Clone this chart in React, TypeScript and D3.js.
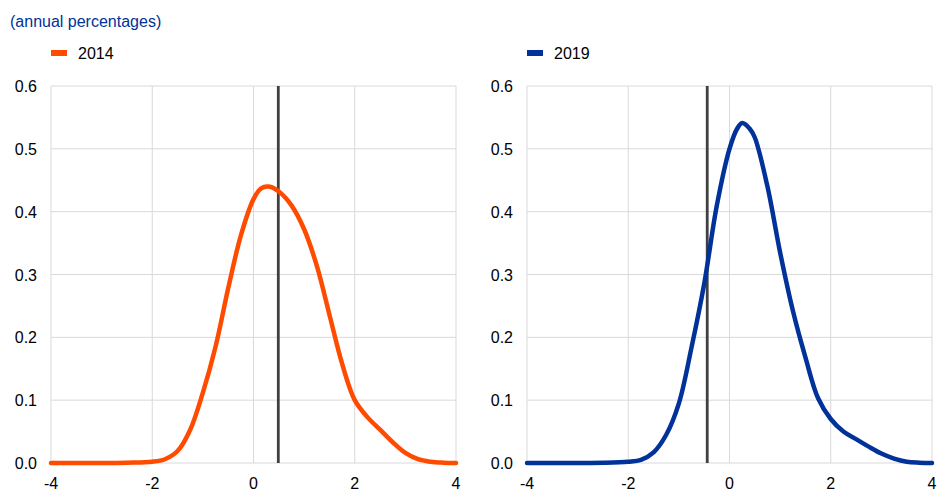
import * as d3 from "d3";

// density curves (x in annual %, y = density)
const xs2014 = [-4, -3, -2.5, -2, -1.75, -1.5, -1.25, -1, -0.75, -0.5, -0.25, 0, 0.15, 0.3, 0.5, 0.75, 1, 1.25, 1.5, 1.75, 2, 2.25, 2.5, 2.75, 3, 3.25, 3.5, 3.75, 4];
const ys2014 = [0, 0, 0.0005, 0.002, 0.006, 0.019, 0.053, 0.112, 0.185, 0.278, 0.362, 0.42, 0.437, 0.44, 0.432, 0.41, 0.372, 0.314, 0.236, 0.158, 0.1, 0.073, 0.053, 0.033, 0.016, 0.006, 0.002, 0.0005, 0];

const xs2019 = [-4, -3, -2.5, -2, -1.75, -1.5, -1.25, -1, -0.75, -0.5, -0.25, 0, 0.15, 0.25, 0.4, 0.5, 0.75, 1, 1.25, 1.5, 1.75, 2, 2.25, 2.5, 2.75, 3, 3.25, 3.5, 3.75, 4];
const ys2019 = [0, 0, 0.0003, 0.002, 0.005, 0.017, 0.045, 0.095, 0.184, 0.285, 0.41, 0.5, 0.532, 0.541, 0.532, 0.518, 0.44, 0.335, 0.243, 0.168, 0.103, 0.07, 0.05, 0.038, 0.026, 0.015, 0.007, 0.002, 0.0005, 0];

const markers = [0.49, -0.44]; // vertical reference lines
const series = ["2014", "2019"];
const colors = ["#FF4B00", "#003299"];
const xTicks = [-4, -2, 0, 2, 4];
const yTicks = [0, 0.1, 0.2, 0.3, 0.4, 0.5, 0.6];

const W = 947;
const H = 503;
const FONT = "Arial, 'Liberation Sans', sans-serif";

function Panel({ left, xsArr, ysArr, color, label, marker }: {
  left: number; xsArr: number[]; ysArr: number[]; color: string; label: string; marker: number;
}) {
  const x = d3.scaleLinear().domain([-4, 4]).range([left, left + 405]);
  const y = d3.scaleLinear().domain([0, 0.6]).range([463, 86]);
  const pts = xsArr.map((v, i) => [v, ysArr[i]] as [number, number]);
  const line = d3.line<[number, number]>()
    .x(d => x(d[0]))
    .y(d => y(Math.max(0, d[1])))
    .curve(d3.curveCatmullRom.alpha(0.5));

  return (
    <g>
      {/* grid */}
      {yTicks.map(t => (
        <line key={`h${t}`} x1={x(-4)} x2={x(4)} y1={y(t)} y2={y(t)} stroke="#d9d9d9" strokeWidth={1} />
      ))}
      {xTicks.map(t => (
        <line key={`v${t}`} x1={x(t)} x2={x(t)} y1={y(0)} y2={y(0.6)} stroke="#d9d9d9" strokeWidth={1} />
      ))}
      {/* tick labels */}
      {yTicks.map(t => (
        <text key={`yl${t}`} x={left - 14} y={y(t) + 6} textAnchor="end" fontSize={16} fill="#000">
          {t.toFixed(1)}
        </text>
      ))}
      {xTicks.map(t => (
        <text key={`xl${t}`} x={x(t)} y={489} textAnchor="middle" fontSize={16} fill="#000">
          {t}
        </text>
      ))}
      {/* legend */}
      <rect x={left} y={50} width={16} height={6} fill={color} />
      <text x={left + 27} y={59} fontSize={16} fill="#000">{label}</text>
      {/* reference line */}
      <line x1={x(marker)} x2={x(marker)} y1={y(0)} y2={y(0.6)} stroke="#404040" strokeWidth={2.8} />
      {/* density */}
      <path d={line(pts) || ""} fill="none" stroke={color} strokeWidth={4.5} strokeLinecap="round" strokeLinejoin="round" />
    </g>
  );
}

export default function App() {
  return (
    <svg width={W} height={H} viewBox={`0 0 ${W} ${H}`}
      style={{ position: "absolute", left: 0, top: 0, display: "block", background: "#fff", fontFamily: FONT }}>
      <text x={10} y={27} fontSize={16} fill="#003299">(annual percentages)</text>
      <Panel left={51} xsArr={xs2014} ysArr={ys2014} color={colors[0]} label={series[0]} marker={markers[0]} />
      <Panel left={527} xsArr={xs2019} ysArr={ys2019} color={colors[1]} label={series[1]} marker={markers[1]} />
    </svg>
  );
}
